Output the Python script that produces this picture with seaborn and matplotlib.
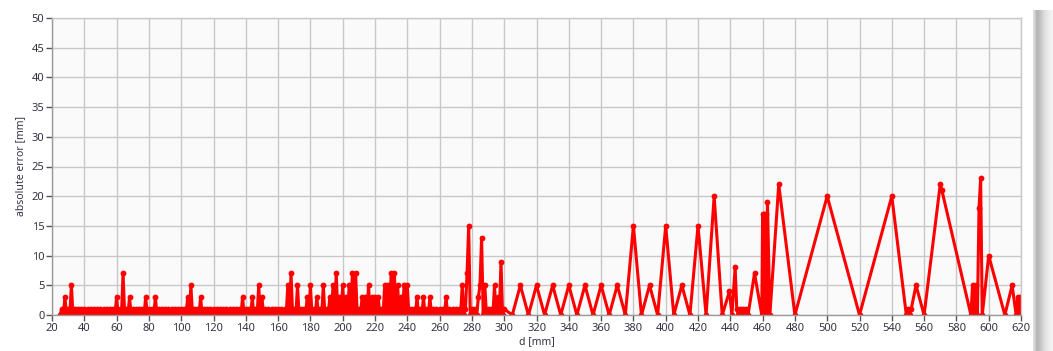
import numpy as np
import pandas as pd
import matplotlib.pyplot as plt
import seaborn as sns

# ---- data ----
# dense part: one reading per mm, 25 .. 300 mm
d_dense = np.arange(25, 301)
err_dense = [
    0, 1, 0, 3, 0,                  # 25-29
    1, 0, 5, 0, 1, 0, 1, 0, 1, 0,   # 30
    1, 0, 1, 0, 1, 0, 1, 0, 1, 0,   # 40
    1, 0, 1, 0, 1, 0, 1, 0, 1, 0,   # 50
    3, 0, 1, 0, 7, 0, 1, 0, 3, 0,   # 60
    1, 0, 1, 0, 1, 0, 1, 0, 3, 0,   # 70
    1, 0, 1, 0, 3, 0, 1, 0, 1, 0,   # 80
    1, 0, 1, 0, 1, 0, 1, 0, 1, 0,   # 90
    1, 0, 1, 0, 3, 0, 5, 0, 1, 0,   # 100
    1, 0, 3, 0, 1, 0, 1, 0, 1, 0,   # 110
    1, 0, 1, 0, 1, 0, 1, 0, 1, 0,   # 120
    1, 0, 1, 0, 1, 0, 1, 0, 3, 0,   # 130
    1, 0, 1, 0, 3, 0, 1, 0, 5, 0,   # 140
    3, 0, 1, 0, 1, 0, 1, 0, 1, 0,   # 150
    1, 0, 1, 0, 1, 0, 5, 0, 7, 0,   # 160
    1, 0, 5, 0, 1, 0, 1, 0, 3, 0,   # 170
    5, 0, 1, 0, 3, 0, 1, 0, 5, 0,   # 180
    1, 0, 3, 0, 5, 0, 7, 0, 3, 0,   # 190
    5, 0, 3, 0, 5, 0, 7, 0, 7, 0,   # 200
    1, 0, 3, 0, 3, 0, 5, 0, 3, 0,   # 210
    3, 0, 3, 0, 1, 0, 5, 0, 5, 0,   # 220
    7, 0, 7, 0, 5, 0, 3, 0, 5, 0,   # 230
    5, 0, 1, 0, 1, 0, 3, 0, 1, 0,   # 240
    3, 0, 1, 0, 3, 0, 1, 0, 1, 0,   # 250
    1, 0, 1, 0, 3, 0, 1, 0, 1, 0,   # 260
    1, 0, 1, 0, 5, 0, 1, 7, 15, 0,  # 270
    1, 0, 1, 0, 3, 5, 13, 0, 5, 0,  # 280
    1, 0, 1, 0, 5, 0, 3, 0, 9, 0,   # 290
    1,                              # 300
]

# sparse part beyond 300 mm
d_sparse = [305, 310, 315, 320, 325, 330, 335, 340, 345, 350, 355, 360, 365,
            370, 375, 380, 385, 390, 395, 400, 405, 410, 415, 420, 425, 430,
            435, 439.5, 441, 443, 444, 445, 446, 447, 448, 449, 450, 451, 455,
            459.5, 460, 460.5, 461, 461.5, 462, 462.5, 463, 464.5, 470, 480,
            500, 520, 540, 549, 550, 551, 552, 555, 560, 570, 571, 589, 590,
            591, 592, 593, 594, 595, 596, 600, 610, 614.5, 617, 618, 619,
            619.5, 620]
err_sparse = [0, 5, 0, 5, 0, 5, 0, 5, 0, 5, 0, 5, 0,
              5, 0, 15, 0, 5, 0, 15, 0, 5, 0, 15, 0, 20,
              0, 4, 0, 8, 1, 0, 1, 0, 1, 0, 1, 0, 7,
              0, 17, 0, 17, 0, 17, 0, 19, 0, 22, 0,
              20, 0, 20, 0, 1, 0, 1, 5, 0, 22, 21, 0, 5,
              0, 5, 0, 18, 23, 0, 10, 0, 5, 0, 3, 0,
              3, 0]

df = pd.DataFrame({
    'd': np.concatenate([d_dense, d_sparse]),
    'err': np.concatenate([err_dense, err_sparse]),
})

# ---- style ----
sns.set_style('whitegrid')
plt.rcParams['font.family'] = ['Noto Sans', 'DejaVu Sans']
txt_col = '#333344'

fig = plt.figure(figsize=(10.53, 3.51), dpi=100)
ax = fig.add_axes([52 / 1053, 1 - 315 / 351, 969 / 1053, 297 / 351])
ax.set_facecolor('#fafafa')

sns.lineplot(data=df, x='d', y='err', estimator=None, sort=False,
             color='#ff0000', lw=2.2, marker='o', markersize=4.2,
             markeredgewidth=0, ax=ax)

ax.set_xlim(20, 620)
ax.set_ylim(0, 50)
ax.set_xticks(np.arange(20, 621, 20))
ax.set_yticks(np.arange(0, 51, 5))
ax.grid(True, color='#c8c8c8', lw=1)
ax.tick_params(axis='both', which='both', direction='out', length=4,
               width=1, color='#555555', labelsize=8, labelcolor=txt_col,
               pad=1.5, left=True, bottom=True)

for s in ['top', 'right']:
    ax.spines[s].set_color('#c8c8c8')
for s in ['left', 'bottom']:
    ax.spines[s].set_color('#9a9a9a')
for s in ax.spines.values():
    s.set_linewidth(1)

ax.set_xlabel('d [mm]', fontsize=7.5, color=txt_col, labelpad=2)
ax.set_ylabel('absolute error [mm]', fontsize=7.5, color=txt_col, labelpad=4)

# grey panel edge on the right
sb = fig.add_axes([1033 / 1053, 0, 20 / 1053, 341 / 351])
grad = np.array([[0.86, 0.70, 0.74, 0.80, 0.86, 0.90, 0.93, 0.95]])
sb.imshow(grad, cmap='gray', vmin=0, vmax=1, aspect='auto',
          interpolation='bilinear')
sb.axis('off')

fig.savefig('out.png', dpi=100)
